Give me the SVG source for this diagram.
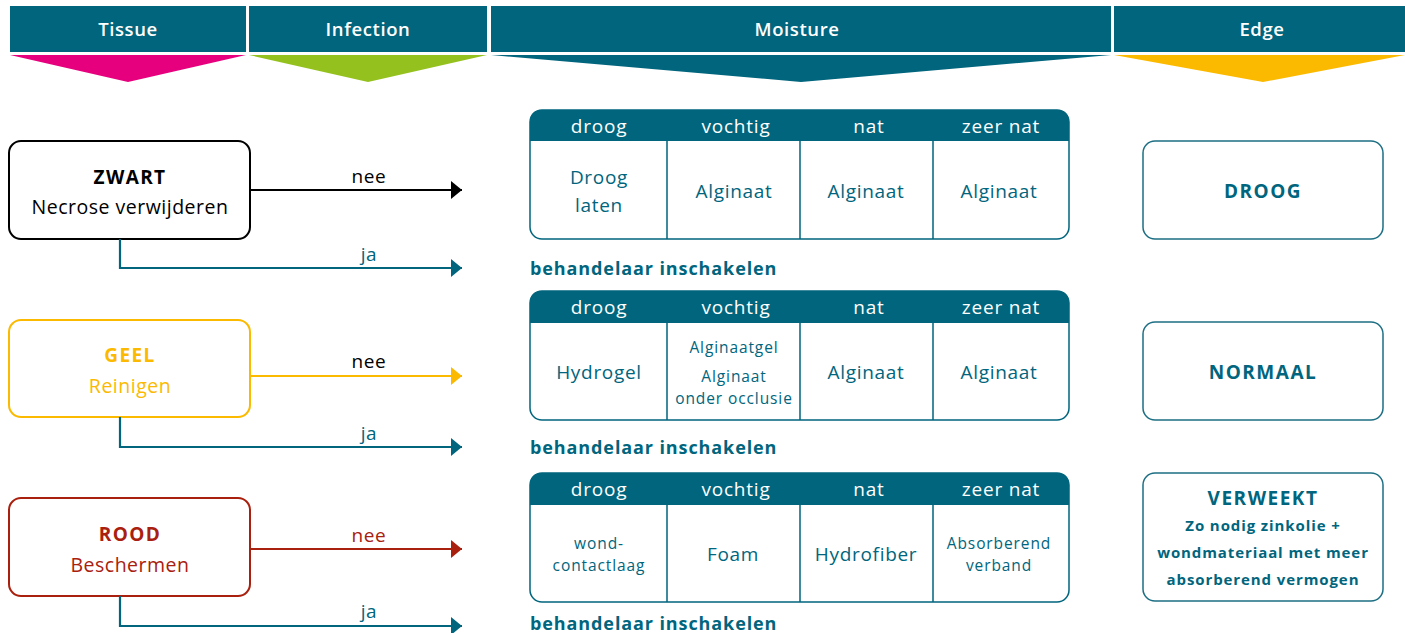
<svg xmlns="http://www.w3.org/2000/svg" width="1405" height="633" viewBox="0 0 1405 633">
<defs>
<style>
text{font-family:"Open Sans","Noto Sans",sans-serif;text-anchor:middle;dominant-baseline:central}
.hd{fill:#fff;font-size:18.5px;font-weight:600;letter-spacing:0.6px}
.teal{fill:#00657d}
.th{fill:#fff;font-size:19px;letter-spacing:0.8px}
.td{fill:#00657d;font-size:19px;letter-spacing:0.7px}
.tds{fill:#00657d;font-size:15.5px;letter-spacing:0.9px}
.tbl{fill:none;stroke:#00657d;stroke-width:1.5}
.box{fill:#fff;stroke-width:2}
.rb{fill:#fff;stroke:#1d6f84;stroke-width:1.5}
.b{font-weight:700}
.nt{font-size:19px;font-weight:700;letter-spacing:1.4px}
.ns{font-size:19.5px;letter-spacing:0.5px}
.lbl{font-size:19px;letter-spacing:0.6px}
.beh{fill:#00657d;font-size:18px;font-weight:700;text-anchor:start;letter-spacing:0.9px}
.et{font-size:19px;letter-spacing:1.5px}
.es{font-size:15px;letter-spacing:0.9px}
.cn{fill:none;stroke-width:2.2}
</style>
<marker id="mk" viewBox="0 0 11 18" refX="11" refY="9" markerWidth="11" markerHeight="18" markerUnits="userSpaceOnUse" orient="auto"><path d="M0,0L11,9L0,18Z" fill="#000"/></marker>
<marker id="my" viewBox="0 0 11 18" refX="11" refY="9" markerWidth="11" markerHeight="18" markerUnits="userSpaceOnUse" orient="auto"><path d="M0,0L11,9L0,18Z" fill="#fbba00"/></marker>
<marker id="mr" viewBox="0 0 11 18" refX="11" refY="9" markerWidth="11" markerHeight="18" markerUnits="userSpaceOnUse" orient="auto"><path d="M0,0L11,9L0,18Z" fill="#a9200e"/></marker>
<marker id="mt" viewBox="0 0 11 18" refX="11" refY="9" markerWidth="11" markerHeight="18" markerUnits="userSpaceOnUse" orient="auto"><path d="M0,0L11,9L0,18Z" fill="#00657d"/></marker>
</defs>
<rect width="1405" height="633" fill="#fff"/>

<g id="header-tissue">
<rect x="10" y="6" width="236" height="46" fill="#00657d"/>
<path d="M10,55H246L128,82Z" fill="#e6007e"/>
<text class="hd" x="128" y="28">Tissue</text>
</g>
<g id="header-infection">
<rect x="249" y="6" width="238" height="46" fill="#00657d"/>
<path d="M249,55H487L368,82Z" fill="#95c11f"/>
<text class="hd" x="368" y="28">Infection</text>
</g>
<g id="header-moisture">
<rect x="491" y="6" width="620" height="46" fill="#00657d"/>
<path d="M491,55H1111L801,82Z" fill="#00657d"/>
<text class="hd" x="797" y="28">Moisture</text>
</g>
<g id="header-edge">
<rect x="1114" y="6" width="291" height="46" fill="#00657d"/>
<path d="M1114,55H1405L1263,82Z" fill="#fbba00"/>
<text class="hd" x="1262" y="28">Edge</text>
</g>

<g id="zwart">
<rect class="box" x="9" y="141" width="241" height="98" rx="12" stroke="#000"/>
<text class="nt" x="130" y="177" fill="#000">ZWART</text>
<text class="ns" x="130" y="206" fill="#000">Necrose verwijderen</text>
</g>
<g id="geel">
<rect class="box" x="9" y="320" width="241" height="97" rx="12" stroke="#fbba00"/>
<text class="nt" x="130" y="355" fill="#fbba00">GEEL</text>
<text class="ns" x="130" y="385" fill="#fbba00">Reinigen</text>
</g>
<g id="rood">
<rect class="box" x="9" y="498" width="241" height="98" rx="12" stroke="#a9200e"/>
<text class="nt" x="130" y="534" fill="#a9200e">ROOD</text>
<text class="ns" x="130" y="564" fill="#a9200e">Beschermen</text>
</g>

<g id="connectors">
<path class="cn" d="M250,190H462" stroke="#000" marker-end="url(#mk)"/>
<path class="cn" d="M120,239V268H462" stroke="#00657d" marker-end="url(#mt)"/>
<path class="cn" d="M250,376H462" stroke="#fbba00" marker-end="url(#my)"/>
<path class="cn" d="M120,417V447H462" stroke="#00657d" marker-end="url(#mt)"/>
<path class="cn" d="M250,549H462" stroke="#a9200e" marker-end="url(#mr)"/>
<path class="cn" d="M120,596V626H462" stroke="#00657d" marker-end="url(#mt)"/>
<text class="lbl" x="369" y="176" fill="#000">nee</text>
<text class="lbl" x="369" y="254" fill="#00657d">ja</text>
<text class="lbl" x="369" y="361" fill="#000">nee</text>
<text class="lbl" x="369" y="433" fill="#00657d">ja</text>
<text class="lbl" x="369" y="535" fill="#a9200e">nee</text>
<text class="lbl" x="369" y="611" fill="#00657d">ja</text>
</g>

<g id="table-zwart">
<path d="M530,141V122Q530,110 542,110H1057Q1069,110 1069,122V141Z" fill="#00657d"/>
<rect class="tbl" x="530" y="110" width="539" height="129" rx="12"/>
<path class="tbl" d="M667,141V239M800,141V239M933,141V239"/>
<text class="th" x="599" y="126">droog</text>
<text class="th" x="736" y="126">vochtig</text>
<text class="th" x="869" y="126">nat</text>
<text class="th" x="1001" y="126">zeer nat</text>
<text class="td" x="599" y="177">Droog</text>
<text class="td" x="599" y="205">laten</text>
<text class="td" x="734" y="191">Alginaat</text>
<text class="td" x="866" y="191">Alginaat</text>
<text class="td" x="999" y="191">Alginaat</text>
<text class="beh" x="530" y="268">behandelaar inschakelen</text>
</g>

<g id="table-geel">
<path d="M530,323V303Q530,291 542,291H1057Q1069,291 1069,303V323Z" fill="#00657d"/>
<rect class="tbl" x="530" y="291" width="539" height="129" rx="12"/>
<path class="tbl" d="M667,323V420M800,323V420M933,323V420"/>
<text class="th" x="599" y="307">droog</text>
<text class="th" x="736" y="307">vochtig</text>
<text class="th" x="869" y="307">nat</text>
<text class="th" x="1001" y="307">zeer nat</text>
<text class="td" x="599" y="372">Hydrogel</text>
<text class="tds" x="734" y="347">Alginaatgel</text>
<text class="tds" x="734" y="376">Alginaat</text>
<text class="tds" x="734" y="398">onder occlusie</text>
<text class="td" x="866" y="372">Alginaat</text>
<text class="td" x="999" y="372">Alginaat</text>
<text class="beh" x="530" y="447">behandelaar inschakelen</text>
</g>

<g id="table-rood">
<path d="M530,505V485Q530,473 542,473H1057Q1069,473 1069,485V505Z" fill="#00657d"/>
<rect class="tbl" x="530" y="473" width="539" height="129" rx="12"/>
<path class="tbl" d="M667,505V602M800,505V602M933,505V602"/>
<text class="th" x="599" y="489">droog</text>
<text class="th" x="736" y="489">vochtig</text>
<text class="th" x="869" y="489">nat</text>
<text class="th" x="1001" y="489">zeer nat</text>
<text class="tds" x="599" y="543">wond-</text>
<text class="tds" x="599" y="565">contactlaag</text>
<text class="td" x="733" y="554">Foam</text>
<text class="td" x="866" y="554">Hydrofiber</text>
<text class="tds" x="999" y="543">Absorberend</text>
<text class="tds" x="999" y="565">verband</text>
<text class="beh" x="530" y="623">behandelaar inschakelen</text>
</g>

<g id="edge-droog">
<rect class="rb" x="1143" y="141" width="240" height="98" rx="12"/>
<text class="teal b et" x="1263" y="191">DROOG</text>
</g>
<g id="edge-normaal">
<rect class="rb" x="1143" y="322" width="240" height="98" rx="12"/>
<text class="teal b et" x="1263" y="372">NORMAAL</text>
</g>
<g id="edge-verweekt">
<rect class="rb" x="1143" y="473" width="240" height="128" rx="12"/>
<text class="teal b et" x="1263" y="498">VERWEEKT</text>
<text class="teal b es" x="1263" y="525">Zo nodig zinkolie +</text>
<text class="teal b es" x="1263" y="552">wondmateriaal met meer</text>
<text class="teal b es" x="1263" y="579">absorberend vermogen</text>
</g>
</svg>
